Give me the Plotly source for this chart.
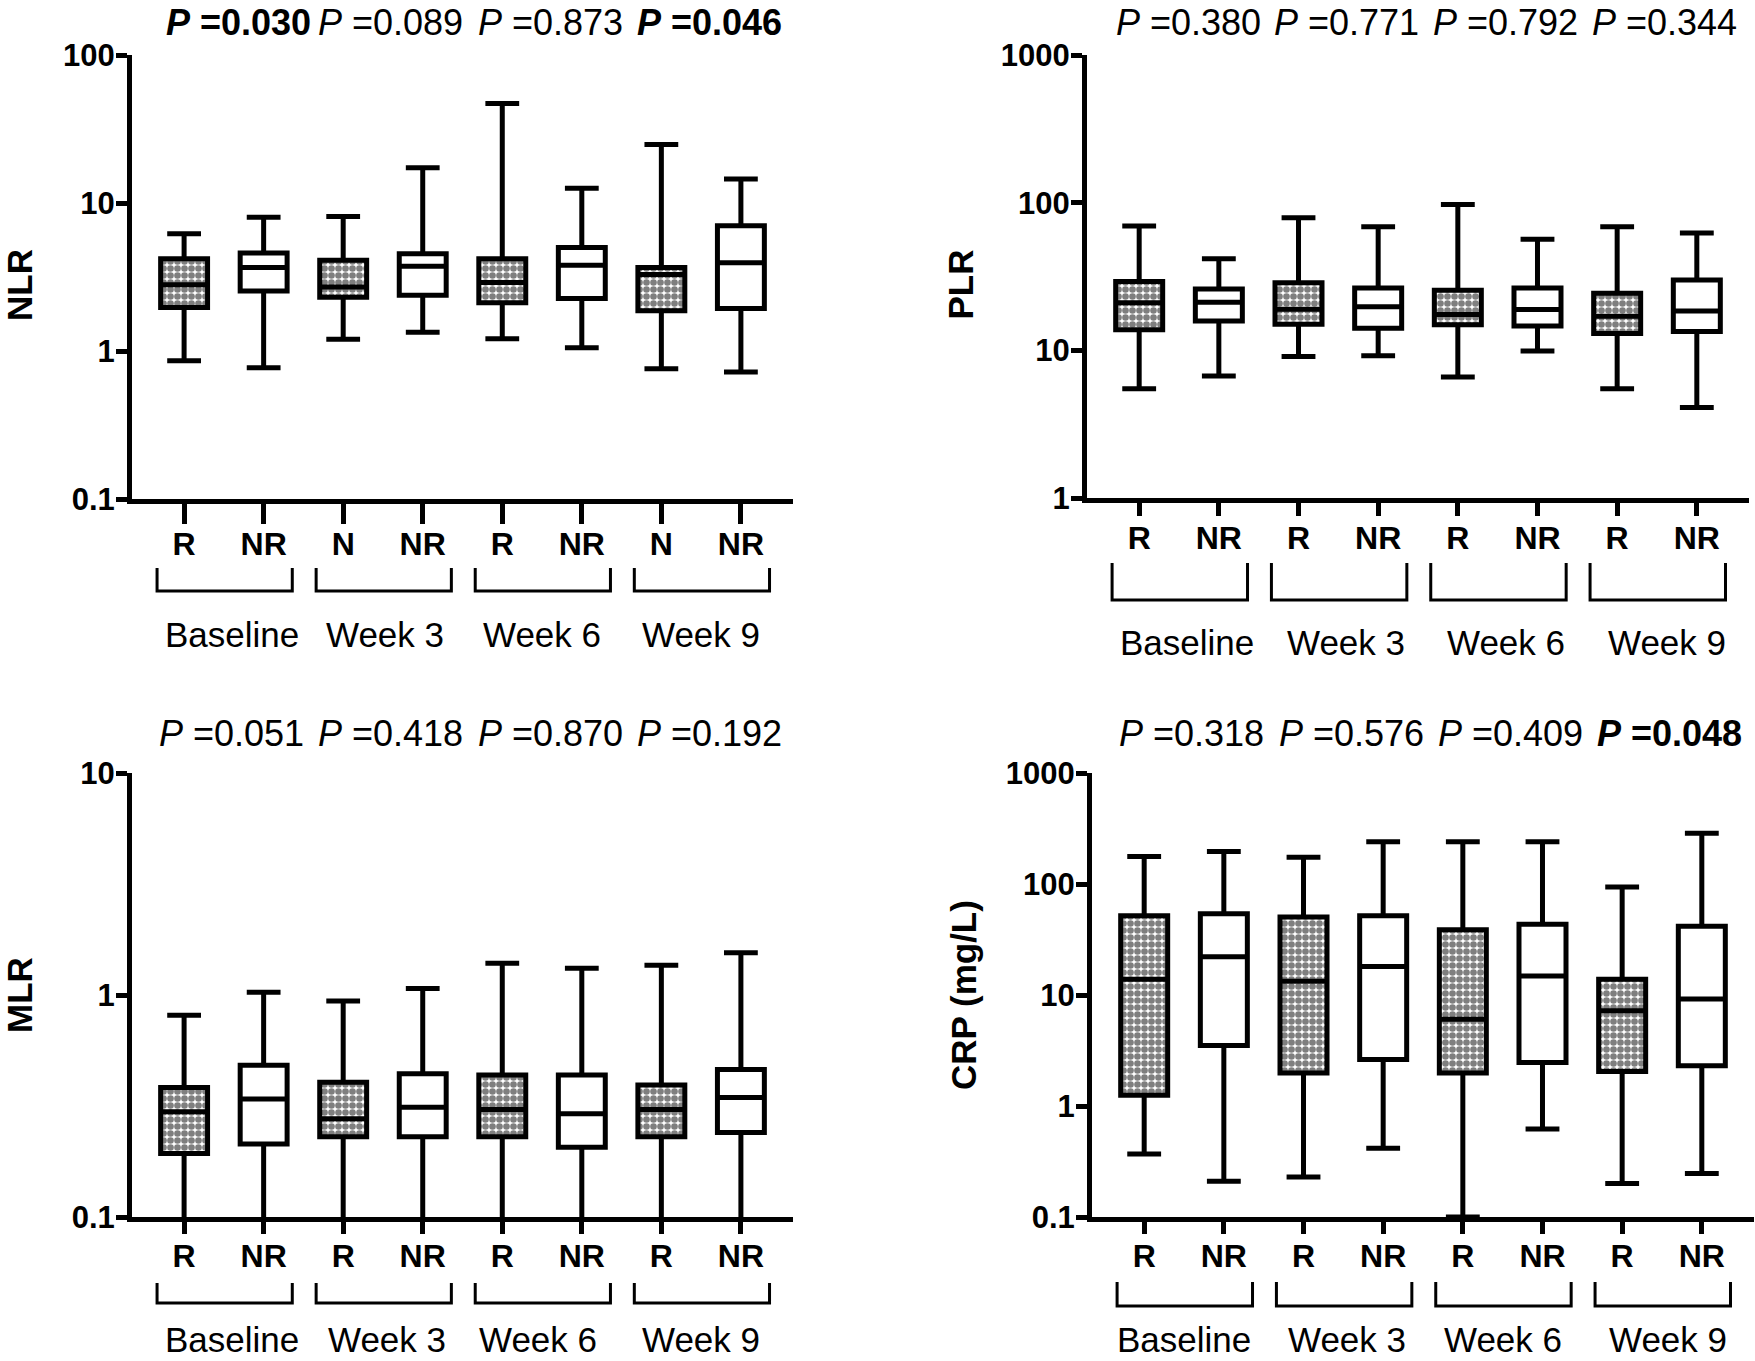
import plotly.graph_objects as go

W, H = 1755, 1361

# groups and category labels
groups = ["Baseline", "Week 3", "Week 6", "Week 9"]
nlr_cats = ["R", "NR", "N", "NR", "R", "NR", "N", "NR"]
cats = ["R", "NR", "R", "NR", "R", "NR", "R", "NR"]

# NLR (responders R / non-responders NR, one value per time point)
nlr_r_low = [0.86, 1.2, 1.21, 0.76]
nlr_r_q1 = [1.97, 2.31, 2.12, 1.87]
nlr_r_med = [2.8, 2.71, 2.9, 3.29]
nlr_r_q3 = [4.2, 4.1, 4.2, 3.67]
nlr_r_high = [6.2, 8.1, 47, 24.8]
nlr_nr_low = [0.77, 1.34, 1.05, 0.72]
nlr_nr_q1 = [2.54, 2.38, 2.26, 1.94]
nlr_nr_med = [3.67, 3.74, 3.79, 3.94]
nlr_nr_q3 = [4.6, 4.54, 5.0, 7.03]
nlr_nr_high = [8.0, 17.3, 12.6, 14.5]
nlr_p = ["0.030", "0.089", "0.873", "0.046"]
nlr_sig = [True, False, False, True]

# PLR
plr_r_low = [5.5, 9.1, 6.6, 5.5]
plr_r_q1 = [13.8, 15.0, 14.9, 13.0]
plr_r_med = [21, 19, 17.5, 17]
plr_r_q3 = [29.3, 28.7, 25.5, 24.4]
plr_r_high = [69.5, 79, 97, 68.6]
plr_nr_low = [6.7, 9.2, 9.9, 4.1]
plr_nr_q1 = [15.8, 14.1, 14.6, 13.4]
plr_nr_med = [21.2, 19.7, 18.9, 18.5]
plr_nr_q3 = [26, 26.4, 26.4, 30]
plr_nr_high = [41.7, 68.6, 56.5, 62.3]
plr_p = ["0.380", "0.771", "0.792", "0.344"]
plr_sig = [False, False, False, False]

# MLR (lower whiskers run below the axis minimum)
mlr_r_low = [0.08, 0.08, 0.08, 0.08]
mlr_r_q1 = [0.193, 0.23, 0.23, 0.23]
mlr_r_med = [0.298, 0.277, 0.305, 0.305]
mlr_r_q3 = [0.383, 0.405, 0.436, 0.393]
mlr_r_high = [0.81, 0.94, 1.39, 1.36]
mlr_nr_low = [0.08, 0.08, 0.08, 0.08]
mlr_nr_q1 = [0.213, 0.23, 0.206, 0.24]
mlr_nr_med = [0.34, 0.312, 0.292, 0.345]
mlr_nr_q3 = [0.482, 0.442, 0.436, 0.462]
mlr_nr_high = [1.03, 1.07, 1.32, 1.55]
mlr_p = ["0.051", "0.418", "0.870", "0.192"]
mlr_sig = [False, False, False, False]

# CRP (mg/L)
crp_r_low = [0.37, 0.229, 0.1, 0.2]
crp_r_q1 = [1.25, 1.98, 1.98, 2.05]
crp_r_med = [13.9, 13.3, 6.04, 7.2]
crp_r_q3 = [51.8, 50.5, 38.8, 13.9]
crp_r_high = [177, 174, 240, 94]
crp_nr_low = [0.21, 0.416, 0.62, 0.246]
crp_nr_q1 = [3.5, 2.62, 2.47, 2.3]
crp_nr_med = [22.1, 18.1, 14.8, 9.2]
crp_nr_q3 = [54, 51.8, 43.5, 41.6]
crp_nr_high = [196, 240, 240, 286]
crp_p = ["0.318", "0.576", "0.409", "0.048"]
crp_sig = [False, False, False, True]

FONT = "Liberation Sans, Arial, sans-serif"
BOXW = 0.59

panels = [
    dict(title="NLR", cats=nlr_cats, p=nlr_p, sig=nlr_sig, yr=[-1, 2],
         ytv=[0.1, 1, 10, 100], ytt=["0.1", "1", "10", "100"],
         r=(nlr_r_low, nlr_r_q1, nlr_r_med, nlr_r_q3, nlr_r_high),
         nr=(nlr_nr_low, nlr_nr_q1, nlr_nr_med, nlr_nr_q3, nlr_nr_high),
         px=(132, 793), py=(55, 499), ticklen=20, titlex=19, titledy=8, ptexty=22,
         brk=(568, 591), grpy=634, catstand=-7,
         pdx=[0.18, 0.1, 0.1, 0.1], gdx=[0.1, 0.03, 0.0, 0.0]),
    dict(title="PLR", cats=cats, p=plr_p, sig=plr_sig, yr=[0, 3],
         ytv=[1, 10, 100, 1000], ytt=["1", "10", "100", "1000"],
         r=(plr_r_low, plr_r_q1, plr_r_med, plr_r_q3, plr_r_high),
         nr=(plr_nr_low, plr_nr_q1, plr_nr_med, plr_nr_q3, plr_nr_high),
         px=(1087, 1749), py=(55, 498), ticklen=13, titlex=960, titledy=8, ptexty=22,
         brk=(563, 600), grpy=642, catstand=-5,
         pdx=[0.12, 0.1, 0.1, 0.1], gdx=[0.1, 0.1, 0.1, 0.12]),
    dict(title="MLR", cats=cats, p=mlr_p, sig=mlr_sig, yr=[-1, 1],
         ytv=[0.1, 1, 10], ytt=["0.1", "1", "10"],
         r=(mlr_r_low, mlr_r_q1, mlr_r_med, mlr_r_q3, mlr_r_high),
         nr=(mlr_nr_low, mlr_nr_q1, mlr_nr_med, mlr_nr_q3, mlr_nr_high),
         px=(132, 793), py=(773, 1217), ticklen=12, titlex=19, titledy=0, ptexty=733,
         brk=(1283, 1303), grpy=1339, catstand=-5,
         pdx=[0.1, 0.1, 0.1, 0.1], gdx=[0.1, 0.05, -0.05, 0.0]),
    dict(title="CRP (mg/L)", cats=cats, p=crp_p, sig=crp_sig, yr=[-1, 3],
         ytv=[0.1, 1, 10, 100, 1000], ytt=["0.1", "1", "10", "100", "1000"],
         r=(crp_r_low, crp_r_q1, crp_r_med, crp_r_q3, crp_r_high),
         nr=(crp_nr_low, crp_nr_q1, crp_nr_med, crp_nr_q3, crp_nr_high),
         px=(1092, 1754), py=(773, 1217), ticklen=12, titlex=963, titledy=0, ptexty=733,
         brk=(1282, 1306), grpy=1339, catstand=-5,
         pdx=[0.1, 0.1, 0.1, 0.1], gdx=[0.0, 0.05, 0.0, 0.08]),
]

fig = go.Figure()
shapes = []
annotations = []

r_pos = [1, 3, 5, 7]
nr_pos = [2, 4, 6, 8]

for i, pn in enumerate(panels):
    n = "" if i == 0 else str(i + 1)
    xa, ya = "x" + n, "y" + n
    low, q1, med, q3, high = pn["r"]
    # patterned fill for responder boxes
    fig.add_trace(go.Bar(
        x=r_pos, y=[b - a for a, b in zip(q1, q3)], base=q1, width=BOXW,
        marker=dict(color="white", line=dict(width=0),
                    pattern=dict(shape=".", fgcolor="black", bgcolor="white",
                                 size=7, solidity=0.7)),
        xaxis=xa, yaxis=ya, showlegend=False, hoverinfo="skip"))
    fig.add_trace(go.Box(
        x=r_pos, lowerfence=low, q1=q1, median=med, q3=q3, upperfence=high,
        width=BOXW, whiskerwidth=0.72, fillcolor="rgba(0,0,0,0)",
        line=dict(color="black", width=5), boxpoints=False,
        xaxis=xa, yaxis=ya, showlegend=False))
    low, q1, med, q3, high = pn["nr"]
    fig.add_trace(go.Box(
        x=nr_pos, lowerfence=low, q1=q1, median=med, q3=q3, upperfence=high,
        width=BOXW, whiskerwidth=0.72, fillcolor="white",
        line=dict(color="black", width=5), boxpoints=False,
        xaxis=xa, yaxis=ya, showlegend=False))

    xdom = [pn["px"][0] / W, pn["px"][1] / W]
    ydom = [1 - pn["py"][1] / H, 1 - pn["py"][0] / H]
    fig.update_layout(**{
        ("xaxis" + n): dict(
            domain=xdom, range=[0.345, 8.655], anchor=ya, automargin=False,
            tickvals=list(range(1, 9)), ticktext=pn["cats"],
            ticks="outside", ticklen=pn["ticklen"], tickwidth=5, tickcolor="black",
            showline=True, linewidth=5, linecolor="black",
            showgrid=False, zeroline=False, ticklabelstandoff=pn["catstand"],
            tickfont=dict(family=FONT, size=32, color="black", weight="bold")),
        ("yaxis" + n): dict(
            domain=ydom, type="log", range=pn["yr"], anchor=xa, automargin=False,
            tickvals=pn["ytv"], ticktext=pn["ytt"],
            ticks="outside", ticklen=11, tickwidth=5, tickcolor="black",
            showline=True, linewidth=5, linecolor="black",
            showgrid=False, zeroline=False, ticklabelstandoff=-5,
            tickfont=dict(family=FONT, size=31, color="black", weight="bold")),
    })

    # y-axis title
    annotations.append(dict(
        text="<b>" + pn["title"] + "</b>", textangle=-90,
        x=pn["titlex"] / W, y=(ydom[0] + ydom[1]) / 2 - pn["titledy"] / H,
        xref="paper", yref="paper",
        xanchor="center", yanchor="middle", showarrow=False,
        font=dict(family=FONT, size=35, color="black")))

    for g, name in enumerate(groups):
        c = 2 * g + 1.5
        # P values above each pair
        txt = "<i>P</i> =" + pn["p"][g]
        if pn["sig"][g]:
            txt = "<b>" + txt + "</b>"
        annotations.append(dict(
            text=txt, x=c + pn["pdx"][g], y=1 - pn["ptexty"] / H, xref=xa, yref="paper",
            xanchor="center", yanchor="middle", showarrow=False,
            font=dict(family=FONT, size=36, color="black")))
        # bracket under each pair
        top, bot = 1 - pn["brk"][0] / H, 1 - pn["brk"][1] / H
        x0, x1 = c - 0.5 - 0.34, c + 0.5 + 0.36
        shapes.append(dict(
            type="path", xref=xa, yref="paper",
            path=f"M {x0},{top} L {x0},{bot} L {x1},{bot} L {x1},{top}",
            line=dict(color="black", width=3)))
        annotations.append(dict(
            text=name, x=c + pn["gdx"][g], y=1 - pn["grpy"] / H, xref=xa, yref="paper",
            xanchor="center", yanchor="middle", showarrow=False,
            font=dict(family=FONT, size=35, color="black")))

fig.update_layout(
    width=W, height=H,
    margin=dict(l=0, r=0, t=0, b=0, autoexpand=False),
    paper_bgcolor="white", plot_bgcolor="white",
    showlegend=False, boxmode="overlay",
    shapes=shapes, annotations=annotations,
    font=dict(family=FONT, color="black"),
)

fig.write_html("out.html", config={"displayModeBar": False},
               post_script="document.body.style.margin='0';document.body.style.overflow='hidden';")
